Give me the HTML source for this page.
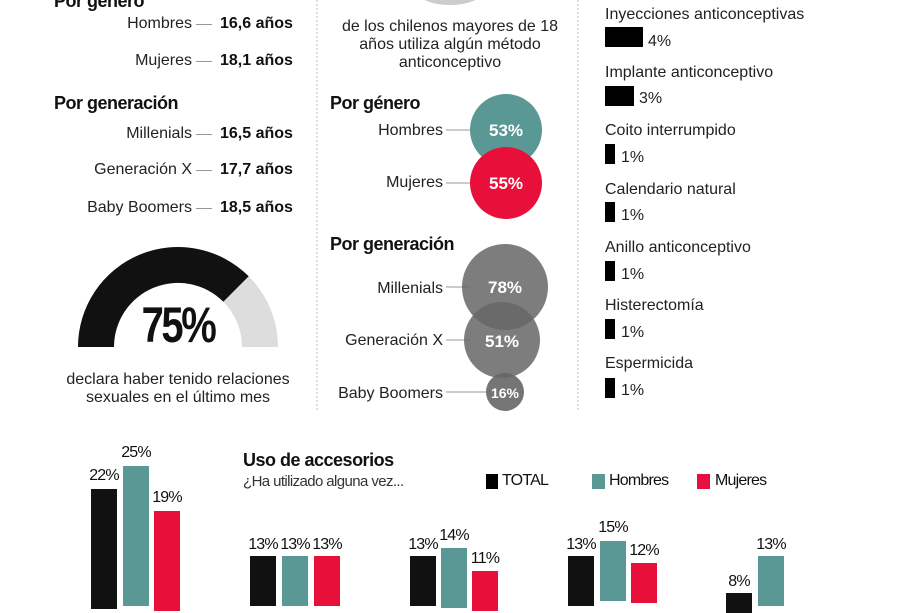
<!DOCTYPE html>
<html><head><meta charset="utf-8"><style>
*{margin:0;padding:0}
body{width:900px;height:600px;overflow:hidden;background:#fff;position:relative;font-family:"Liberation Sans",sans-serif;color:#222}
.a{position:absolute;white-space:nowrap}
.r{text-align:right}
.t{font-size:16px;line-height:18px}
.h{font-size:18px;font-weight:bold;letter-spacing:-0.5px;color:#111}
.b{font-weight:bold;color:#111}
.n{font-family:"Liberation Sans Narrow","Liberation Sans",sans-serif;font-size:16px;color:#111;letter-spacing:-0.8px;text-align:center;width:40px}
.bar{position:absolute;bottom:0}
</style></head><body>
<div class="a h" style="left:54px;top:-9px">Por género</div>
<div class="a t r" style="right:708px;top:15px">Hombres</div>
<div class="a t r" style="right:708px;top:52px">Mujeres</div>
<div class="a t r" style="right:708px;top:125px">Millenials</div>
<div class="a t r" style="right:708px;top:161px">Generación X</div>
<div class="a t r" style="right:708px;top:199px">Baby Boomers</div>
<div class="a" style="left:196px;top:24px;width:16px;height:1px;background:#999"></div>
<div class="a" style="left:196px;top:61px;width:16px;height:1px;background:#999"></div>
<div class="a" style="left:196px;top:134px;width:16px;height:1px;background:#999"></div>
<div class="a" style="left:196px;top:170px;width:16px;height:1px;background:#999"></div>
<div class="a" style="left:196px;top:208px;width:16px;height:1px;background:#999"></div>
<div class="a t b" style="left:220px;top:15px">16,6 años</div>
<div class="a t b" style="left:220px;top:52px">18,1 años</div>
<div class="a h" style="left:54px;top:93px">Por generación</div>
<div class="a t b" style="left:220px;top:125px">16,5 años</div>
<div class="a t b" style="left:220px;top:161px">17,7 años</div>
<div class="a t b" style="left:220px;top:199px">18,5 años</div>
<svg class="a" style="left:0;top:0" width="900" height="600">
<path d="M78 347 A100 100 0 0 1 278 347 L242 347 A64 64 0 0 0 114 347 Z" fill="#ddd"/>
<path d="M78 347 A100 100 0 0 1 248.7 276.3 L223.3 301.7 A64 64 0 0 0 114 347 Z" fill="#111"/>
<line x1="317" y1="0" x2="317" y2="410" stroke="#bbb" stroke-dasharray="2,2"/>
<line x1="578" y1="0" x2="578" y2="410" stroke="#bbb" stroke-dasharray="2,2"/>
<ellipse cx="450" cy="-12" rx="36" ry="17" fill="#ccc"/>
<line x1="446" y1="130" x2="470" y2="130" stroke="#999"/>
<line x1="446" y1="183" x2="470" y2="183" stroke="#999"/>
<line x1="446" y1="287" x2="470" y2="287" stroke="#999"/>
<line x1="446" y1="340" x2="470" y2="340" stroke="#999"/>
<line x1="446" y1="392" x2="490" y2="392" stroke="#999"/>
<circle cx="506" cy="130" r="36" fill="#5a9896"/>
<circle cx="506" cy="183" r="36" fill="#e8103a"/>
<circle cx="505" cy="287" r="43" fill="#666" fill-opacity="0.85"/>
<circle cx="502" cy="340" r="38" fill="#666" fill-opacity="0.85"/>
<circle cx="505" cy="392" r="19" fill="#666" fill-opacity="0.9"/>
<g fill="#fff" font-family="Liberation Sans" font-weight="bold" font-size="17" text-anchor="middle">
<text x="506" y="136">53%</text><text x="506" y="189">55%</text>
<text x="505" y="293">78%</text><text x="502" y="347">51%</text>
<text x="505" y="398" font-size="14">16%</text></g>
</svg>
<div class="a" style="left:178px;top:300px;width:0"><div style="position:absolute;left:-60px;width:120px;text-align:center;font-family:'Liberation Sans Narrow','Liberation Sans',sans-serif;font-weight:bold;font-size:50px;line-height:50px;letter-spacing:-3px;color:#111;transform:scaleX(0.8)">75%</div></div>
<div class="a t" style="left:48px;width:260px;text-align:center;top:371px;white-space:normal;line-height:18px">declara haber tenido relaciones sexuales en el último mes</div>
<div class="a t" style="left:330px;width:240px;text-align:center;top:18px;white-space:normal;line-height:18px">de los chilenos mayores de 18 años utiliza algún método anticonceptivo</div>
<div class="a h" style="left:330px;top:93px">Por género</div>
<div class="a t r" style="right:457px;top:122px">Hombres</div>
<div class="a t r" style="right:457px;top:174px">Mujeres</div>
<div class="a h" style="left:330px;top:234px">Por generación</div>
<div class="a t r" style="right:457px;top:280px">Millenials</div>
<div class="a t r" style="right:457px;top:332px">Generación X</div>
<div class="a t r" style="right:457px;top:385px">Baby Boomers</div>

<div class="a t" style="left:605px;top:6px">Inyecciones anticonceptivas</div>
<div class="a" style="left:605px;top:27px;width:38px;height:20px;background:#000"></div><div class="a t" style="left:648px;top:33px">4%</div>
<div class="a t" style="left:605px;top:64px">Implante anticonceptivo</div>
<div class="a" style="left:605px;top:86px;width:29px;height:20px;background:#000"></div><div class="a t" style="left:639px;top:90px">3%</div>
<div class="a t" style="left:605px;top:122px">Coito interrumpido</div>
<div class="a" style="left:605px;top:144px;width:10px;height:20px;background:#000"></div><div class="a t" style="left:621px;top:149px">1%</div>
<div class="a t" style="left:605px;top:181px">Calendario natural</div>
<div class="a" style="left:605px;top:202px;width:10px;height:20px;background:#000"></div><div class="a t" style="left:621px;top:207px">1%</div>
<div class="a t" style="left:605px;top:239px">Anillo anticonceptivo</div>
<div class="a" style="left:605px;top:261px;width:10px;height:20px;background:#000"></div><div class="a t" style="left:621px;top:266px">1%</div>
<div class="a t" style="left:605px;top:297px">Histerectomía</div>
<div class="a" style="left:605px;top:319px;width:10px;height:20px;background:#000"></div><div class="a t" style="left:621px;top:324px">1%</div>
<div class="a t" style="left:605px;top:355px">Espermicida</div>
<div class="a" style="left:605px;top:378px;width:10px;height:20px;background:#000"></div><div class="a t" style="left:621px;top:382px">1%</div>

<div class="a h" style="left:243px;top:450px">Uso de accesorios</div>
<div class="a" style="left:243px;top:473px;font-family:'Liberation Sans Narrow','Liberation Sans',sans-serif;font-size:15px;color:#333;letter-spacing:-0.6px">¿Ha utilizado alguna vez...</div>
<div class="a" style="left:486px;top:474px;width:12px;height:15px;background:#000"></div><div class="a n" style="left:502px;top:472px;width:auto">TOTAL</div>
<div class="a" style="left:592px;top:474px;width:13px;height:15px;background:#5a9896"></div><div class="a n" style="left:609px;top:472px;width:auto">Hombres</div>
<div class="a" style="left:697px;top:474px;width:13px;height:15px;background:#e8103a"></div><div class="a n" style="left:715px;top:472px;width:auto">Mujeres</div>

<div class="a" style="left:91px;top:489px;width:26px;height:120px;background:#111"></div><div class="a n" style="left:84px;top:467px">22%</div>
<div class="a" style="left:123px;top:466px;width:26px;height:140px;background:#5a9896"></div><div class="a n" style="left:116px;top:444px">25%</div>
<div class="a" style="left:154px;top:511px;width:26px;height:100px;background:#e8103a"></div><div class="a n" style="left:147px;top:489px">19%</div>

<div class="a" style="left:250px;top:556px;width:26px;height:50px;background:#111"></div><div class="a n" style="left:243px;top:536px">13%</div>
<div class="a" style="left:282px;top:556px;width:26px;height:50px;background:#5a9896"></div><div class="a n" style="left:275px;top:536px">13%</div>
<div class="a" style="left:314px;top:556px;width:26px;height:50px;background:#e8103a"></div><div class="a n" style="left:307px;top:536px">13%</div>

<div class="a" style="left:410px;top:556px;width:26px;height:50px;background:#111"></div><div class="a n" style="left:403px;top:536px">13%</div>
<div class="a" style="left:441px;top:548px;width:26px;height:60px;background:#5a9896"></div><div class="a n" style="left:434px;top:527px">14%</div>
<div class="a" style="left:472px;top:571px;width:26px;height:40px;background:#e8103a"></div><div class="a n" style="left:465px;top:550px">11%</div>

<div class="a" style="left:568px;top:556px;width:26px;height:50px;background:#111"></div><div class="a n" style="left:561px;top:536px">13%</div>
<div class="a" style="left:600px;top:541px;width:26px;height:60px;background:#5a9896"></div><div class="a n" style="left:593px;top:519px">15%</div>
<div class="a" style="left:631px;top:563px;width:26px;height:40px;background:#e8103a"></div><div class="a n" style="left:624px;top:542px">12%</div>

<div class="a" style="left:726px;top:593px;width:26px;height:20px;background:#111"></div><div class="a n" style="left:719px;top:573px">8%</div>
<div class="a" style="left:758px;top:556px;width:26px;height:50px;background:#5a9896"></div><div class="a n" style="left:751px;top:536px">13%</div>
</body></html>
